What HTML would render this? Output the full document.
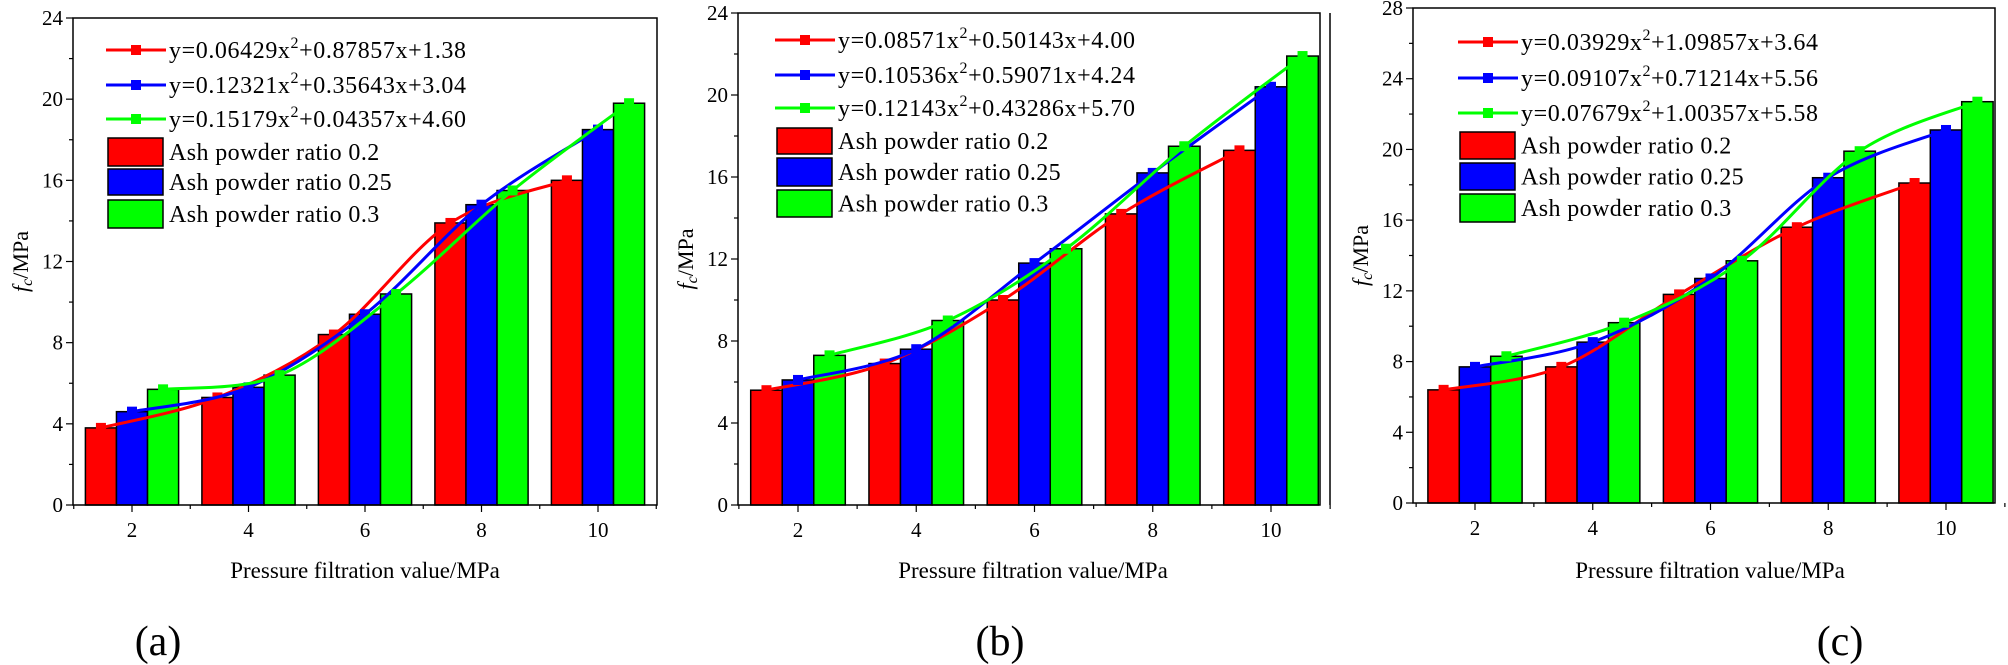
<!DOCTYPE html>
<html><head><meta charset="utf-8"><style>
html,body{margin:0;padding:0;background:#fff;}
svg{display:block;}
text{font-family:"Liberation Serif","DejaVu Serif","Times New Roman",serif;}
</style></head><body>
<svg id="s" width="2008" height="665" xmlns="http://www.w3.org/2000/svg"></svg>
<script>
const P=[
 {L:73,R:657,T:18,B:505,ymax:24,x2:132,x10:598,
  eq:["y=0.06429x","+0.87857x+1.38","y=0.12321x","+0.35643x+3.04","y=0.15179x","+0.04357x+4.60"],
  d:[[3.8,5.3,8.4,13.9,16.0],[4.6,5.8,9.4,14.8,18.5],[5.7,6.4,10.4,15.5,19.8]],
  ly:[50,85,119],lx:106,boxes:[[138,166],[169,195],[200,228]],xl:365,lab:"(a)",labx:158},
 {L:738,R:1320,T:13,B:505,ymax:24,x2:798,x10:1271,
  eq:["y=0.08571x","+0.50143x+4.00","y=0.10536x","+0.59071x+4.24","y=0.12143x","+0.43286x+5.70"],
  d:[[5.6,6.9,10.0,14.2,17.3],[6.1,7.6,11.8,16.2,20.4],[7.3,9.0,12.5,17.5,21.9]],
  ly:[40,75,108],lx:775,boxes:[[128,154],[158,186],[190,217]],xl:1033,lab:"(b)",labx:1000},
 {L:1413,R:1995,T:8,B:503,ymax:28,x2:1475,x10:1946,
  eq:["y=0.03929x","+1.09857x+3.64","y=0.09107x","+0.71214x+5.56","y=0.07679x","+1.00357x+5.58"],
  d:[[6.4,7.7,11.8,15.6,18.1],[7.7,9.1,12.7,18.4,21.1],[8.3,10.2,13.7,19.9,22.7]],
  ly:[42,78,113],lx:1458,boxes:[[132,159],[163,190],[194,222]],xl:1710,lab:"(c)",labx:1840}
];
const C=["#ff0000","#0000ff","#00ff00"];
const N=["Ash powder ratio 0.2","Ash powder ratio 0.25","Ash powder ratio 0.3"];
const F='style="font-family:\'Liberation Serif\',\'DejaVu Serif\',serif"';
let h="";
h+='<line x1="1330" y1="13" x2="1330" y2="505" stroke="#000" stroke-width="1.5"/>';
function spline(pts){let s="M"+pts[0][0]+","+pts[0][1];for(let i=0;i<pts.length-1;i++){const p0=pts[Math.max(0,i-1)],p1=pts[i],p2=pts[i+1],p3=pts[Math.min(pts.length-1,i+2)];const c1=[p1[0]+(p2[0]-p0[0])/6,p1[1]+(p2[1]-p0[1])/6],c2=[p2[0]-(p3[0]-p1[0])/6,p2[1]-(p3[1]-p1[1])/6];s+=` C${c1[0]},${c1[1]} ${c2[0]},${c2[1]} ${p2[0]},${p2[1]}`;}return s;}
P.forEach(p=>{
 const ys=v=>p.B-(p.B-p.T)*v/p.ymax, xs=v=>p.x2+(p.x10-p.x2)*(v-2)/8;
 const bw=(p.x10-p.x2)/8*2/3*0.8;
 for(let s=0;s<3;s++)for(let i=0;i<5;i++){const cx=xs(2+2*i)+(s-1)*bw;const y=ys(p.d[s][i]);h+=`<rect x="${cx-bw/2}" y="${y}" width="${bw}" height="${p.B-y}" fill="${C[s]}" stroke="#000" stroke-width="1.5"/>`;}
 for(let s=0;s<3;s++){const pts=p.d[s].map((v,i)=>[xs(2+2*i)+(s-1)*bw,ys(v)]);h+=`<path d="${spline(pts)}" fill="none" stroke="${C[s]}" stroke-width="3"/>`;pts.forEach(q=>h+=`<rect x="${q[0]-5}" y="${q[1]-5}" width="10" height="10" fill="${C[s]}"/>`);}
 h+=`<rect x="${p.L}" y="${p.T}" width="${p.R-p.L}" height="${p.B-p.T}" fill="none" stroke="#000" stroke-width="1.5"/>`;
 for(let v=0;v<=p.ymax;v+=2){const y=ys(v);const len=v%4==0?7:4;h+=`<line x1="${p.L-len}" y1="${y}" x2="${p.L}" y2="${y}" stroke="#000" stroke-width="1.2"/>`;if(v%4==0)h+=`<text ${F} x="${p.L-10}" y="${y+7}" font-size="21" text-anchor="end">${v}</text>`;}
 for(let v=1;v<=11;v++){const x=xs(v);const len=v%2==0?7:4;h+=`<line x1="${x}" y1="${p.B}" x2="${x}" y2="${p.B+len}" stroke="#000" stroke-width="1.2"/>`;if(v%2==0)h+=`<text ${F} x="${x}" y="${p.B+32}" font-size="21" text-anchor="middle">${v}</text>`;}
 h+=`<text ${F} x="${p.xl}" y="578" font-size="23" text-anchor="middle">Pressure filtration value/MPa</text>`;
 h+=`<text ${F} transform="translate(${p.L-45},${(p.T+p.B)/2}) rotate(-90)" font-size="22" text-anchor="middle"><tspan font-style="italic">f</tspan><tspan font-style="italic" font-size="16" dy="4">c</tspan><tspan dy="-4">/MPa</tspan></text>`;
 h+=`<text ${F} x="${p.labx}" y="655" font-size="42" text-anchor="middle">${p.lab}</text>`;
 for(let s=0;s<3;s++){const y=p.ly[s];h+=`<line x1="${p.lx}" y1="${y}" x2="${p.lx+60}" y2="${y}" stroke="${C[s]}" stroke-width="3"/><rect x="${p.lx+25}" y="${y-5}" width="10" height="10" fill="${C[s]}"/>`;
  h+=`<text ${F} x="${p.lx+63}" y="${y+8}" font-size="24" letter-spacing="0.6">${p.eq[2*s]}<tspan font-size="16" dy="-10">2</tspan><tspan dy="10">${p.eq[2*s+1]}</tspan></text>`;
  const b=p.boxes[s];h+=`<rect x="${p.lx+2}" y="${b[0]}" width="55" height="${b[1]-b[0]}" fill="${C[s]}" stroke="#000" stroke-width="1.5"/><text ${F} x="${p.lx+63}" y="${(b[0]+b[1])/2+8}" font-size="24" letter-spacing="0.4">${N[s]}</text>`;}
});
document.getElementById("s").innerHTML=h;
</script>
</body></html>
